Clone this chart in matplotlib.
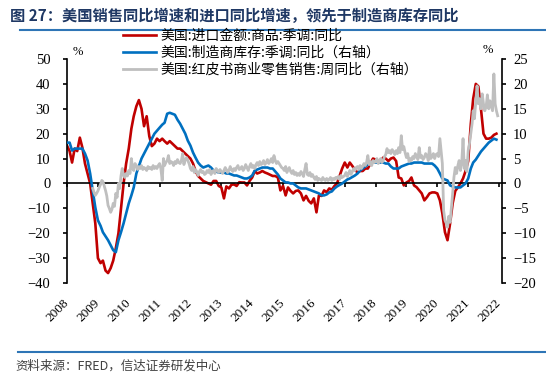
import pandas as pd
import matplotlib
matplotlib.use("Agg")
import matplotlib.pyplot as plt
from matplotlib.lines import Line2D

plt.rcParams["font.family"] = ["Noto Sans CJK SC", "DejaVu Sans"]

# 美国:进口金额:商品:季调:同比 (左轴, 月度, 2008-01 起)
imports_yoy = [
    15.2, 13, 8.4, 14, 13, 18.4, 14.4, 8, 4, 0, -8, -16,          # 2008
    -30, -32, -31, -35, -36, -34, -31, -26, -20, -10, 0, 8,       # 2009
    14, 22, 27, 31, 33.5, 30, 23, 27, 19, 15, 16, 18,             # 2010
    17, 18, 17, 16, 17, 16, 15, 14, 14, 13, 12, 11,               # 2011
    10, 8, 5, 3, 2, 1, 0.5, 0, -0.5, 1, 1, -1,                    # 2012
    -1.6, -6, -1.2, -2, -0.5, -0.4, -1, 0.5, 0.4, 0.4, -0.8, 1,   # 2013
    2.4, 5, 4, 4.4, 5, 4.4, 4, 3.5, 3, 3, 2.4, -2.8,              # 2014
    -1, -4.8, -1.6, -3, -4, -3, -2.8, -4, -6.8, -5, -7, -8,       # 2015
    -6, -11.6, -4.8, -5, -2.8, -3.5, -2, -2.5, -1, 0, 3, 6,       # 2016
    8.4, 6.4, 8.4, 7, 5.5, 4.4, 5, 5, 6, 6, 8, 10,                # 2017
    9.6, 8.4, 9, 10.4, 10, 9, 10, 10.4, 9, 2.4, 2, -0.8,          # 2018
    0.4, 1, 2.4, -0.8, -1.5, -2.8, -4, -6.8, -5.5, -4, -3.6, -3.6,  # 2019
    -4, -6.8, -12, -19.6, -22.8, -16, -8, -3, -1.6, 0, 2, 5,      # 2020
    9, 24, 34, 40, 39, 30, 20, 18, 18, 18.4, 19.5, 20,            # 2021
]

# 美国:制造商库存:季调:同比 (右轴, 月度, 2008-01 起)
inventory_yoy = [
    8.2, 8.2, 6.6, 7, 7, 7, 7, 6, 4.6, 2, -1.4, -4.8,
    -7.4, -8.5, -9.8, -10.6, -11.4, -12.4, -13.4, -13.8, -11.4, -9.8, -8, -6,
    -4, -2.4, -0.8, 2, 3.5, 5, 6, 7, 8, 9, 10, 10.6,
    11.2, 11.8, 12.2, 14, 14.2, 14, 13.8, 12.8, 12, 11, 10, 8.6,
    7.6, 6.2, 5.2, 4.2, 3.6, 3.2, 3.4, 3.6, 3.2, 2.6, 2.4, 2.2,
    2.2, 2.2, 2.0, 2.0, 1.8, 1.6, 1.6, 1.4, 1.2, 1.0, 1.0, 1.2,
    1.6, 2.6, 2.8, 3.0, 3.2, 3.2, 3.2, 3.0, 3.0, 2.4, 1.8, 1.0,
    0.6, 0.2, 0.2, 0.0, 0.0, -0.4, -0.8, -1.0, -1.0, -1.0, -1.2, -1.4,
    -1.6, -1.8, -2.0, -2.4, -2.4, -2.2, -1.8, -1.6, -1.0, -0.6, -0.3, 0.0,
    0.4, 0.8, 1.0, 1.3, 1.6, 2.0, 2.6, 3.0, 3.4, 3.8, 4.0, 4.2,
    4.2, 4.2, 4.2, 4.2, 4.0, 4.0, 3.4, 3.0, 3.0, 3.0, 3.4, 3.6,
    3.8, 4.0, 4.0, 4.2, 4.2, 4.2, 4.2, 4.0, 4.0, 4.0, 4.0, 3.6,
    3.0, 2.0, 1.0, 0.8, 0.6, -0.4, -0.6, -0.8, -0.8, -0.8, -0.4, 0.0,
    1.0, 3.0, 4.2, 4.8, 5.6, 6.4, 7.0, 7.6, 8.2, 8.6, 9.0, 8.8,
]

# 美国:红皮书商业零售销售:周同比 (右轴, 每月两个读数, 2008-11 起)
redbook_yoy = [
    -1.0, -1.8, -2.4, -2.0,
    -1.5, -0.8, -0.2, 0.6, 0.4, -0.5, -1.4, -2.5, -4.4, -5.0, -5.8, -5.2,
    -4.0, -4.6, -2.0, -2.8, 0.0, -1.0, 1.5, 3.0, 1.6, 1.2, 2.0, 1.5,
    2.6, 2.0, 5.0, 3.0, 2.6, 4.0, 3.6, 2.8, 3.4, 3.0, 3.6, 2.8,
    3.2, 3.0, 2.6, 3.4, 3.0, 3.2, 2.8, 3.6, 3.0, 3.4, 3.0, 3.6,
    4.0, 3.0, 0.6, 5.0, 3.6, 4.2, 4.6, 5.6, 4.0, 4.4, 4.2, 3.6,
    4.4, 4.0, 4.8, 4.2, 4.0, 4.6, 6.0, 3.8, 4.8, 5.2, 4.6, 4.0,
    3.0, 2.6, 3.4, 2.2, 2.8, 2.4, 1.6, 2.4, 2.8, 2.2, 2.4, 1.8,
    2.0, 2.6, 2.2, 2.8, 1.8, 2.4, 2.6, 2.0, 3.0, 2.6, 2.2, 2.8,
    2.4, 2.0, 2.6, 3.2, 2.8, 2.2, 2.6, 3.4, 2.8, 2.4, 3.0, 2.6,
    3.2, 3.6, 2.8, 3.0, 3.4, 2.6, 3.0, 3.8, 3.2, 2.6, 3.4, 4.0,
    3.2, 3.6, 3.0, 3.8, 4.2, 3.6, 4.4, 3.8, 4.0, 4.6, 3.8, 4.2,
    4.8, 4.0, 4.4, 5.0, 4.2, 5.6, 4.6, 4.0, 4.4, 4.0, 3.6, 3.2,
    3.0, 2.6, 3.4, 2.2, 2.8, 3.2, 2.4, 2.0, 2.6, 1.8, 2.2, 1.6,
    2.0, 1.6, 2.4, 2.0, 1.4, 2.8, 4.0, 1.8, 1.6, 2.2, 1.4, 1.8,
    1.2, 0.8, 1.4, 0.6, 1.0, 0.8, 0.6, 1.2, 0.8, 0.6, 1.0, 0.6,
    0.8, 1.2, 0.6, 1.0, 0.8, 1.2, 1.0, 1.4, 0.8, 1.6, 1.2, 1.4,
    1.6, 2.2, 1.4, 2.0, 2.6, 1.8, 2.4, 3.0, 2.6, 3.2, 3.4, 2.8,
    3.6, 3.0, 3.4, 4.0, 3.6, 4.2, 5.6, 3.8, 4.4, 3.6, 4.6, 4.2,
    4.4, 5.0, 4.0, 4.6, 5.0, 4.2, 4.6, 5.4, 5.8, 7.0, 6.2, 6.6,
    6.0, 6.8, 6.4, 5.8, 6.6, 6.0, 7.2, 6.2, 9.6, 6.8, 7.4, 6.2,
    5.2, 6.0, 4.4, 5.0, 4.6, 5.4, 5.0, 6.0, 5.4, 4.8, 7.2, 5.2,
    5.6, 4.8, 5.2, 6.0, 5.6, 4.6, 7.2, 5.0, 5.4, 6.0, 5.0, 5.8,
    6.0, 5.4, 9.0, 6.4, 4.0, -5.4, -7.4, -8.0, -8.8, -6.6, -7.8, -5.0,
    -2.0, 1.2, 3.2, 2.0, 3.6, 4.6, 2.6, 4.0, 9.0, 3.0, 4.6, 2.4,
    6.6, 8.0, 10.0, 12.0, 14.6, 13.0, 16.6, 19.6, 16.0, 17.0, 15.0, 18.0,
    16.0, 14.6, 15.4, 17.8, 15.0, 16.6, 15.6, 14.6, 22.0, 16.0, 14.6, 13.6,
]

years = list(range(2008, 2023))

months = pd.date_range("2008-01-01", periods=len(imports_yoy), freq="MS")
half_months = []
for d in pd.date_range("2008-11-01", periods=len(redbook_yoy) // 2, freq="MS"):
    half_months += [d, d + pd.Timedelta(days=15)]

red = "#C00000"
blue = "#0070C0"
grey = "#BFBFBF"
serif = "Liberation Serif"

fig = plt.figure(figsize=(5.46, 3.72), dpi=100)
ax = fig.add_axes([0.1227, 0.2392, 0.7967, 0.6022])
ax2 = ax.twinx()

l1, = ax.plot(months, imports_yoy, color=red, lw=1.9)
l2, = ax2.plot(months, inventory_yoy, color=blue, lw=1.9)
l3, = ax2.plot(half_months, redbook_yoy, color=grey, lw=2.0)

ax.set_ylim(-40, 50)
ax.set_yticks(range(-40, 51, 10))
ax2.set_ylim(-20, 25)
ax2.set_yticks(range(-20, 26, 5))
ax.set_xlim(pd.Timestamp("2008-01-01"), pd.Timestamp("2022-02-05"))

ax.set_xticks([pd.Timestamp(f"{y}-01-01") for y in years], [str(y) for y in years])

for a in (ax, ax2):
    a.spines["top"].set_visible(False)
ax.spines["right"].set_visible(False)
ax2.spines["left"].set_visible(False)
ax2.spines["bottom"].set_visible(False)
ax.spines["bottom"].set_position(("data", 0))
ax.spines["bottom"].set_linewidth(1.2)
ax.spines["left"].set_linewidth(1.2)
ax2.spines["right"].set_linewidth(1.2)

ax.tick_params(axis="y", direction="out", length=3, width=1.2, pad=9,
               labelsize=10.5, labelfontfamily=serif)
ax2.tick_params(axis="y", direction="out", length=3, width=1.2, pad=5,
                labelsize=10.5, labelfontfamily=serif)
ax.tick_params(axis="x", direction="out", length=3, width=1.2, pad=82,
               labelsize=9.5, labelfontfamily=serif)
for lbl in ax.get_xticklabels():
    lbl.set_rotation(45)
    lbl.set_ha("right")
    lbl.set_va("center")
    lbl.set_rotation_mode("anchor")

ax.text(0.012, 1.03, "%", transform=ax.transAxes, fontsize=9,
        family=serif, ha="left", va="center")
ax.text(0.955, 1.04, "%", transform=ax.transAxes, fontsize=9,
        family=serif, ha="left", va="center")

fig.legend([l1, l2, l3],
           ["美国:进口金额:商品:季调:同比",
            "美国:制造商库存:季调:同比（右轴）",
            "美国:红皮书商业零售销售:周同比（右轴）"],
           loc="upper left", bbox_to_anchor=(0.225, 0.922), frameon=False,
           fontsize=10, handlelength=2.4, handletextpad=0.3,
           labelspacing=0.2, borderpad=0, borderaxespad=0)

fig.text(10 / 546, 1 - 16 / 372,
         "图 27：美国销售同比增速和进口同比增速，领先于制造商库存同比",
         fontsize=11, fontweight="bold", color="#1F3864", va="center")
fig.add_artist(Line2D([20 / 546, 1], [1 - 30 / 372] * 2,
                      transform=fig.transFigure, color="#2E75B6", lw=1.5))
fig.add_artist(Line2D([18 / 546, 1], [1 - 352 / 372] * 2,
                      transform=fig.transFigure, color="#2E75B6", lw=1.5))
fig.text(15 / 546, 1 - 366 / 372, "资料来源：FRED，信达证券研发中心",
         fontsize=9, style="italic", color="#404040", va="center")

fig.savefig("out.png", dpi=100)
